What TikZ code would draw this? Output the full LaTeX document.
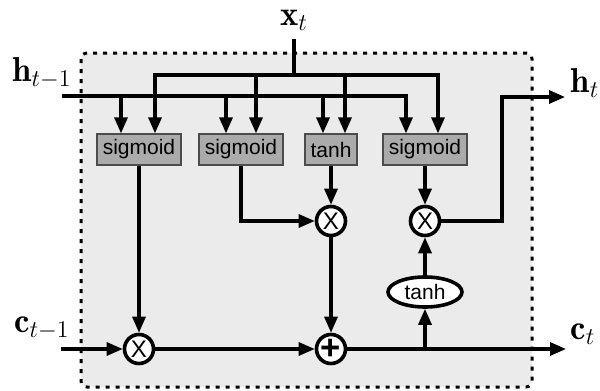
\documentclass[tikz,border=0pt]{standalone}
\usepackage{fontspec}
\setsansfont{Liberation Sans}
\usetikzlibrary{arrows.meta,shapes.geometric}
\begin{document}
\begin{tikzpicture}[x=0.5pt, y=-0.5pt, line width=1.6pt, >={Triangle[length=8pt,width=6.5pt]}, % 単位は画素、y軸は下向き
  gate/.style={draw=black!70, line width=0.6pt, fill=black!33, minimum height=15.5pt, inner sep=0pt, font=\sffamily\fontsize{10.5}{12}\selectfont},
  op/.style={circle, draw, line width=1.8pt, fill=white, minimum size=14.5pt, inner sep=0pt, font=\sffamily\large},
  lbl/.style={font=\LARGE}]
  \useasboundingbox (0,0) rectangle (600,391);
  \draw[line width=1.5pt, dash pattern=on 2pt off 3pt, fill=black!8, rounded corners=3pt] (81,53) rectangle (532,387); % セルの枠
  \node[gate, minimum width=42pt] (sig1) at (139,149.5) {sigmoid}; % ゲート
  \node[gate, minimum width=42pt] (sig2) at (241,149.5) {sigmoid};
  \node[gate, minimum width=26pt] (tnh) at (331,149.5) {tanh};
  \node[gate, minimum width=42pt] (sig3) at (425,149.5) {sigmoid};
  \node[op] (mul1) at (139,349) {X}; % 演算
  \node[op] (mul2) at (331,221) {X};
  \node[op, font=\sffamily\bfseries\LARGE] (add) at (331,349) {+};
  \node[op] (mul3) at (425,221) {X};
  \node[ellipse, draw, line width=1.8pt, fill=white, minimum width=37pt, minimum height=15pt, inner sep=0pt, font=\sffamily\fontsize{10.5}{12}\selectfont] (tnhc) at (425,292) {tanh};
  \node[lbl] (xt) at (294,20) {$\mathbf{x}_t$}; % 入出力
  \node[lbl] (ht1) at (42,73) {$\mathbf{h}_{t-1}$};
  \node[lbl] (ct1) at (42,328) {$\mathbf{c}_{t-1}$};
  \node[lbl] (ht) at (585,83) {$\mathbf{h}_t$};
  \node[lbl] (ct) at (583,334) {$\mathbf{c}_t$};
  \coordinate (xj) at (294,75);
  \coordinate (hin) at (62,96);
  \coordinate (cin) at (61,349);
  \coordinate (hout) at (565,97);
  \coordinate (cout) at (566,349);
  \draw (xt.south) -- (xj); % x_tの配線
  \draw[->] (xj) -- (155,75) -- (155,0 |- sig1.north);
  \draw[->] (xj) -- (438,75) -- (438,0 |- sig3.north);
  \draw[->] (256,75) -- (256,0 |- sig2.north);
  \draw[->] (345,75) -- (345,0 |- tnh.north);
  \draw[->] (hin) -- (406,96) -- (406,0 |- sig3.north); % h_{t-1}の配線
  \draw[->] (121,96) -- (121,0 |- sig1.north);
  \draw[->] (226,96) -- (226,0 |- sig2.north);
  \draw[->] (323,96) -- (323,0 |- tnh.north);
  \draw[->] (sig1) -- (mul1);
  \draw[->] (sig2) |- (mul2);
  \draw[->] (tnh) -- (mul2);
  \draw[->] (mul2) -- (add);
  \draw[->] (sig3) -- (mul3);
  \draw[->] (cin) -- (mul1); % c_{t-1}からc_tへ
  \draw[->] (mul1) -- (add);
  \draw[->] (add) -- (cout);
  \draw[->] (tnhc |- add) -- (tnhc);
  \draw[->] (tnhc) -- (mul3);
  \draw[->] (mul3) -| (502,0 |- hout) -- (hout); % h_tへ
\end{tikzpicture}
\end{document}
